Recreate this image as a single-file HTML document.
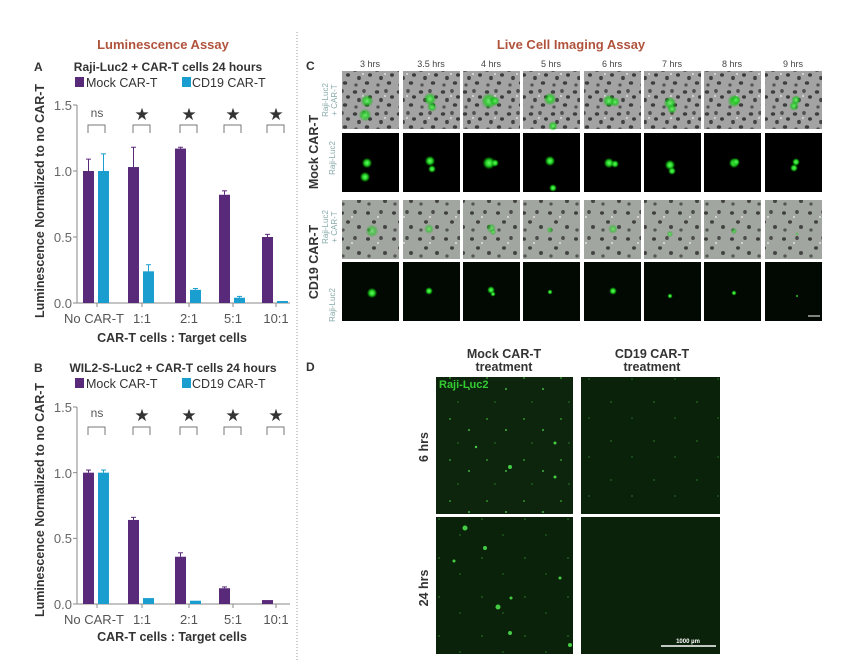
<!DOCTYPE html>
<html><head><meta charset="utf-8"><style>
html,body{margin:0;padding:0;background:#fff;}
svg{display:block;font-family:"Liberation Sans",sans-serif;}
</style></head><body>
<svg id="s" width="858" height="667" viewBox="0 0 858 667" xmlns="http://www.w3.org/2000/svg">
<defs>
<pattern id="bf" width="22" height="22" patternUnits="userSpaceOnUse">
<rect width="22" height="22" fill="#a3a3a3"/>
<ellipse cx="3" cy="4" rx="2.2" ry="1.8" fill="#3d3d3d"/>
<ellipse cx="12" cy="3" rx="1.8" ry="2" fill="#505050"/>
<ellipse cx="18" cy="9" rx="2" ry="1.7" fill="#3a3a3a"/>
<ellipse cx="7" cy="12" rx="1.9" ry="2.1" fill="#444"/>
<ellipse cx="15" cy="17" rx="2.2" ry="1.8" fill="#3d3d3d"/>
<ellipse cx="4" cy="19" rx="1.7" ry="1.6" fill="#555"/>
<ellipse cx="11" cy="8" rx="1" ry="1" fill="#ddd"/>
</pattern>
<pattern id="bf2" width="26" height="26" patternUnits="userSpaceOnUse">
<rect width="26" height="26" fill="#a2a6a0"/>
<ellipse cx="4" cy="5" rx="2" ry="1.8" fill="#3d3d3d"/>
<ellipse cx="17" cy="4" rx="1.8" ry="2" fill="#4a4a4a"/>
<ellipse cx="10" cy="14" rx="2" ry="1.7" fill="#404040"/>
<ellipse cx="21" cy="19" rx="2" ry="2" fill="#444"/>
<ellipse cx="5" cy="22" rx="1.7" ry="1.6" fill="#555"/>
<ellipse cx="14" cy="9" rx="1" ry="1" fill="#e0e0e0"/>
</pattern>
<pattern id="gd" width="37" height="41" patternUnits="userSpaceOnUse">
<rect width="37" height="41" fill="#0c250c"/>
<circle cx="6" cy="9" r="1" fill="#2f8a2f"/>
<circle cx="25" cy="20" r="1.1" fill="#3a9a3a"/>
<circle cx="14" cy="33" r="0.8" fill="#2a7a2a"/>
</pattern>
<pattern id="gd2" width="43" height="39" patternUnits="userSpaceOnUse">
<rect width="43" height="39" fill="#0a220a"/>
<circle cx="9" cy="12" r="0.9" fill="#256a25"/>
<circle cx="30" cy="28" r="0.9" fill="#226222"/>
</pattern>
<radialGradient id="gb"><stop offset="0" stop-color="#6f6"/><stop offset="0.5" stop-color="#2c2"/><stop offset="1" stop-color="#0a0" stop-opacity="0"/></radialGradient>
</defs>
<g font-weight="bold" fill="#b0533d" font-size="13" text-anchor="middle">
<text x="163" y="49">Luminescence Assay</text>
<text x="571" y="49">Live Cell Imaging Assay</text>
</g>
<line x1="297" y1="32" x2="297" y2="660" stroke="#999" stroke-dasharray="1,2"/>
<g id="A"></g><g id="B"></g>
<g font-size="12" fill="#333">
<text x="34" y="71" font-weight="bold">A</text>
<text x="168" y="71" font-weight="bold" text-anchor="middle">Raji-Luc2 + CAR-T cells 24 hours</text>
<rect x="75" y="77" width="9" height="10" fill="#5a2a7a"/><text x="86" y="87" font-size="12.5">Mock CAR-T</text>
<rect x="182" y="77" width="9" height="10" fill="#1a9ed0"/><text x="192" y="87" font-size="12.5">CD19 CAR-T</text>
<text x="172" y="342" font-weight="bold" text-anchor="middle" font-size="12.5">CAR-T cells : Target cells</text>
<text transform="translate(44,201) rotate(-90)" font-weight="bold" text-anchor="middle" font-size="12.5">Luminescence Normalized to no CAR-T</text>
<text x="34" y="372" font-weight="bold">B</text>
<text x="173" y="372" font-weight="bold" text-anchor="middle">WIL2-S-Luc2 + CAR-T cells 24 hours</text>
<rect x="75" y="378" width="9" height="10" fill="#5a2a7a"/><text x="86" y="388" font-size="12.5">Mock CAR-T</text>
<rect x="182" y="378" width="9" height="10" fill="#1a9ed0"/><text x="192" y="388" font-size="12.5">CD19 CAR-T</text>
<text x="172" y="641" font-weight="bold" text-anchor="middle" font-size="12.5">CAR-T cells : Target cells</text>
<text transform="translate(44,500) rotate(-90)" font-weight="bold" text-anchor="middle" font-size="12.5">Luminescence Normalized to no CAR-T</text>
</g>
<g font-size="13" fill="#666" text-anchor="end">
<text x="72" y="110">1.5</text><text x="72" y="176">1.0</text><text x="72" y="242">0.5</text><text x="72" y="308">0.0</text>
<text x="72" y="412">1.5</text><text x="72" y="478">1.0</text><text x="72" y="543">0.5</text><text x="72" y="609">0.0</text>
</g>
<g font-size="13" fill="#555" text-anchor="middle">
<text x="94" y="323">No CAR-T</text><text x="142" y="323">1:1</text><text x="189" y="323">2:1</text><text x="233" y="323">5:1</text><text x="276" y="323">10:1</text>
<text x="94" y="624">No CAR-T</text><text x="142" y="624">1:1</text><text x="189" y="624">2:1</text><text x="233" y="624">5:1</text><text x="276" y="624">10:1</text>
<text x="97" y="117" font-size="12">ns</text><text x="97" y="417" font-size="12">ns</text>
</g>
<g font-size="17" fill="#333" text-anchor="middle">
<text x="142" y="120">★</text><text x="189" y="120">★</text><text x="233" y="120">★</text><text x="276" y="120">★</text>
<text x="142" y="421">★</text><text x="189" y="421">★</text><text x="233" y="421">★</text><text x="276" y="421">★</text>
</g>
<g fill="#444" font-size="9" text-anchor="middle">
<text x="370" y="67">3 hrs</text><text x="431" y="67">3.5 hrs</text><text x="491" y="67">4 hrs</text><text x="551" y="67">5 hrs</text><text x="612" y="67">6 hrs</text><text x="672" y="67">7 hrs</text><text x="732" y="67">8 hrs</text><text x="793" y="67">9 hrs</text>
</g>
<text x="306" y="70" font-size="12" font-weight="bold" fill="#333">C</text>
<g font-weight="bold" font-size="12.5" fill="#333" text-anchor="middle">
<text transform="translate(318,152) rotate(-90)">Mock CAR-T</text>
<text transform="translate(318,262) rotate(-90)">CD19 CAR-T</text>
</g>
<g font-size="8" fill="#8aa" text-anchor="middle">
<text transform="translate(328,100) rotate(-90)">Raji-Luc2</text><text transform="translate(337,100) rotate(-90)">+ CAR-T</text>
<text transform="translate(335,158) rotate(-90)">Raji-Luc2</text>
<text transform="translate(328,227) rotate(-90)">Raji-Luc2</text><text transform="translate(337,227) rotate(-90)">+ CAR-T</text>
<text transform="translate(335,305) rotate(-90)">Raji-Luc2</text>
</g>
<g id="C"></g>
<text x="306" y="371" font-size="12" font-weight="bold" fill="#333">D</text>
<g font-weight="bold" font-size="12.5" fill="#333" text-anchor="middle">
<text x="504" y="358">Mock CAR-T</text><text x="504" y="371">treatment</text>
<text x="652" y="358">CD19 CAR-T</text><text x="652" y="371">treatment</text>
<text transform="translate(428,447) rotate(-90)">6 hrs</text>
<text transform="translate(428,588) rotate(-90)">24 hrs</text>
</g>
<rect x="436" y="377" width="137" height="137" fill="url(#gd)"/>
<rect x="581" y="377" width="139" height="137" fill="url(#gd2)"/>
<rect x="436" y="517" width="137" height="137" fill="url(#gd2)"/>
<rect x="581" y="517" width="139" height="137" fill="#0a220a"/>
<g fill="#4c4">
<circle cx="465" cy="528" r="2.5"/><circle cx="485" cy="548" r="2"/><circle cx="498" cy="607" r="2.5"/><circle cx="510" cy="633" r="2"/><circle cx="570" cy="645" r="2"/><circle cx="454" cy="561" r="1.5"/><circle cx="511" cy="598" r="1.5"/><circle cx="560" cy="578" r="1.5"/>
<circle cx="510" cy="467" r="2"/><circle cx="555" cy="477" r="1.5"/><circle cx="555" cy="443" r="1.5"/><circle cx="476" cy="447" r="1.2"/>
</g>
<text x="439" y="388" font-size="11" font-weight="bold" fill="#3c3">Raji-Luc2</text>
<line x1="661" y1="646" x2="716" y2="646" stroke="#fff" stroke-width="1.5"/>
<text x="688" y="643" font-size="6" fill="#fff" text-anchor="middle" font-weight="bold">1000 µm</text>
</svg>
<script>
var NS="http://www.w3.org/2000/svg";
function el(p,t,a){var e=document.createElementNS(NS,t);for(var k in a)e.setAttribute(k,a[k]);p.appendChild(e);return e;}
function chart(id,y15,y0,mock,mE,cd,cE){
 var g=document.getElementById(id);var u=(y0-y15)/1.5;var ticks=[97,142,189,233,276];
 el(g,"line",{x1:77,y1:y15,x2:77,y2:y0,stroke:"#888"});
 el(g,"line",{x1:77,y1:y0,x2:290,y2:y0,stroke:"#888"});
 [0,0.5,1,1.5].forEach(function(v){el(g,"line",{x1:73,y1:y0-v*u,x2:77,y2:y0-v*u,stroke:"#888"});});
 ticks.forEach(function(t,i){
  el(g,"line",{x1:t,y1:y0,x2:t,y2:y0+4,stroke:"#888"});
  var bt=y15+20;el(g,"path",{d:"M"+(t-9)+" "+(bt+8)+"V"+bt+"H"+(t+8)+"V"+(bt+8),fill:"none",stroke:"#777"});
  [[mock,mE,t-14,"#5a2a7a"],[cd,cE,t+1,"#1a9ed0"]].forEach(function(s){
   var v=s[0][i],e=s[1][i];if(v<=0)return;
   if(e>v){el(g,"line",{x1:s[2]+5.5,y1:y0-e*u,x2:s[2]+5.5,y2:y0-v*u,stroke:s[3]});el(g,"line",{x1:s[2]+3,y1:y0-e*u,x2:s[2]+8,y2:y0-e*u,stroke:s[3]});}
   el(g,"rect",{x:s[2],y:y0-v*u,width:11,height:v*u,fill:s[3]});
  });
 });
}
chart("A",105,303,[1,1.03,1.17,0.82,0.5],[1.09,1.18,1.18,0.85,0.52],[1,0.24,0.1,0.04,0.015],[1.13,0.29,0.11,0.05,0]);
chart("B",407,604,[1,0.64,0.36,0.12,0.03],[1.02,0.66,0.39,0.13,0],[1,0.045,0.025,0,0],[1.02,0,0,0,0]);
var C=document.getElementById("C");
var xs=[342,403,463,523,584,644,704,765],ys=[71,133,200,262];
var bl=[[[25,30,4],[23,44,4]],[[27,28,4],[29,36,3]],[[26,30,5],[32,30,3]],[[27,28,4],[30,55,3]],[[25,30,4],[31,31,3]],[[26,32,4],[28,38,3]],[[30,30,4],[32,29,3]],[[31,29,3],[29,35,3]]];
var bl2=[[[30,31,4]],[[26,29,3]],[[28,28,3],[30,32,2]],[[27,30,2]],[[29,29,3]],[[26,34,2]],[[30,31,2]],[[32,34,1]]];
xs.forEach(function(x,i){
 el(C,"rect",{x:x,y:ys[0],width:57,height:58,fill:"url(#bf)"});
 el(C,"rect",{x:x,y:ys[1],width:57,height:59,fill:"#000"});
 el(C,"rect",{x:x,y:ys[2],width:57,height:59,fill:"url(#bf2)"});
 el(C,"rect",{x:x,y:ys[3],width:57,height:59,fill:"#020802"});
 bl[i].forEach(function(b){el(C,"circle",{cx:x+b[0],cy:ys[0]+b[1],r:b[2]*1.6,fill:"url(#gb)",opacity:0.8});el(C,"circle",{cx:x+b[0],cy:ys[1]+b[1],r:b[2]*1.3,fill:"url(#gb)"});});
 bl2[i].forEach(function(b){el(C,"circle",{cx:x+b[0],cy:ys[2]+b[1],r:b[2]*1.6,fill:"url(#gb)",opacity:0.6});el(C,"circle",{cx:x+b[0],cy:ys[3]+b[1],r:b[2]*1.3,fill:"url(#gb)"});});
});
el(C,"line",{x1:808,y1:316,x2:820,y2:316,stroke:"#fff"});
</script>
</body></html>
